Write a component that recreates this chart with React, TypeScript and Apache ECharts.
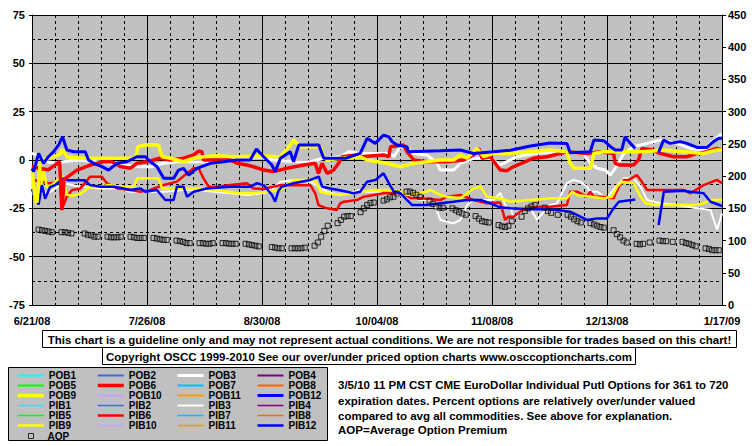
import React, { useEffect, useRef } from 'react';
import * as echarts from 'echarts';

const FONT = "'Liberation Sans', Arial, sans-serif";

// x = days since 6/21/08 (Saturday); labels every 35 days, weekly grid
const xTickLabels = ['6/21/08', '7/26/08', '8/30/08', '10/04/08', '11/08/08', '12/13/08', '1/17/09'];

// Left axis: percent over/under valued
const pob3: (number | null)[][] = [[0,3.4],[1.5,2.6],[4.6,-0.9],[7.6,-1.7],[9.6,-0.9],[13.7,0],[19.8,-0.9],[23.8,-1.7],[27.9,-2.6],[33,-3.5],[36,-3.5],[40,-1.7],[44,-0.9],[50,-0.9],[56.3,-0.9],[62.4,0],[68.5,1.7],[73.5,0],[79.6,-0.9],[84.7,-0.9],[88.8,0.9],[93.8,1.7],[96.4,4.3],[99.9,3.4],[109,3.4],[110.1,1.7],[112.1,6.9],[114.1,6],[116.2,3.4],[120.2,2.6],[123.3,-1.7],[124.3,-5.2],[128.3,-5.2],[130.4,-1.7],[134.4,0.9],[139.5,0.9],[142.5,-2.6],[147.6,1.7],[152.7,3.4],[159.8,4.3],[167.9,3.4],[169.9,-1.7],[172,-4.3],[174.5,-5.2],[176,-7.8],[177.5,-4.3],[180.1,3.4],[183.1,6.9],[187.2,8.6],[191.2,10.3],[196.3,8.6],[200.4,6],[204.4,5.2],[207.5,10.3],[209.5,12.9],[210,12.9]];
const pib3: (number | null)[][] = [[0,-16.4],[3,-17.2],[5.6,-16.4],[9.6,-12],[14.7,-13.8],[20.8,-14.7],[25.9,-14.7],[29.9,-16.4],[35,-16.4],[40.1,-16.4],[46.1,-15.5],[50.2,-15.5],[55.3,-16.4],[60.3,-17.2],[65.4,-18.1],[70.5,-17.2],[73.5,-14.7],[75.6,-11.2],[79.6,-10.3],[84.7,-11.2],[89.8,-16.4],[93.8,-18.1],[99.9,-15.5],[102,-16.4],[105,-16.4],[110.1,-18.1],[112.1,-18.1],[114.1,-19.8],[119.2,-20.7],[121.2,-20.7],[122.8,-24.2],[124.3,-31],[128.3,-32.8],[130.4,-31],[132.4,-23.3],[134.4,-20.7],[140.5,-20.7],[142.5,-17],[144.5,-25],[145.6,-25],[146.6,-29.3],[148.1,-28.5],[149.6,-25.9],[151.7,-25],[153.7,-31],[156.2,-25.9],[157.7,-23.3],[159.8,-22.4],[162.8,-12],[164.8,-10.3],[166.9,-11.2],[168.9,-13.8],[169.9,-16.4],[172,-16.4],[175,-19.8],[176.5,-16.4],[178.1,-13],[180.1,-9.5],[183.1,-9.5],[185.2,-13.8],[187.2,-20.7],[191.2,-22.4],[196.3,-23.3],[202.4,-25],[206.5,-25.9],[208.5,-36],[210,-27.6]];
const pob6: (number | null)[][] = [[0,-3],[2,-4.3],[5,-5],[8.4,-0.9],[9.1,-25.9],[9.8,-10],[13.7,-5.2],[17.7,-2.6],[21.8,-0.9],[24.3,-0.9],[26.9,-3.4],[29.9,-4.3],[32,-1.7],[35,-0.9],[39,0.9],[42.1,0],[46.1,0.9],[49.2,2.6],[50.7,4.6],[51.7,4.3],[52.2,0],[56.3,0],[60.3,0],[62.4,-1.7],[65.4,-2.6],[67.4,-3.5],[70.5,-5.2],[73.5,-6],[77.6,-4.3],[82.7,-2.6],[86.2,-1.7],[87.2,-6.9],[88.3,-1.7],[89.8,-6.9],[91.8,-5.2],[93.3,-1.7],[94.4,1.7],[98.9,2.6],[99.9,1.7],[107,2.6],[108.6,1.7],[109.1,6.9],[113.1,7.75],[114.1,4.3],[116.2,0],[120.2,-0.9],[126.3,-0.9],[131.4,0],[134.4,2.6],[136,6],[137,0.85],[139.5,1.7],[142.5,-5.2],[144.5,-5.5],[146.6,-3.4],[148.6,-2],[152.6,0.9],[156.7,1.7],[162.8,4.3],[168.9,3.4],[172.9,4.3],[177,3.4],[177.5,-1.7],[179,-2.6],[183.1,-2.6],[184.6,0],[185.6,6],[189.2,5.2],[190.7,3.6],[192.2,3],[195.3,1.7],[199.3,1.7],[202.4,3.4],[205.4,4.3],[208.4,6],[210,5.2]];
const pib6: (number | null)[][] = [[0,-10],[2,-11],[5,-12],[8.5,-11.5],[9.2,-25],[10.6,-19],[12.2,-15.5],[14.7,-14.7],[17.7,-8.6],[21.3,-8.6],[22.8,-12],[25.9,-14.7],[29.9,-15.5],[33,-16.4],[36,-15.5],[40.1,-12.9],[44.1,-11.2],[47.2,-6.9],[49.2,-4.3],[50.7,-4.3],[52.2,-9.5],[53.8,-13.8],[56.3,-13.8],[60.3,-12.9],[65.4,-12],[67.4,-14.7],[70.5,-15],[75.6,-13],[84.7,-13],[86.2,-17.2],[87.2,-23.3],[89.8,-25],[92.8,-25.9],[93.8,-22.4],[94.9,-21.6],[98.9,-20.7],[101,-19],[104,-18.1],[107,-17.2],[113,-17.2],[115.2,-19.8],[118.2,-19.8],[124.3,-20.7],[126.3,-19],[130.4,-18.1],[134.4,-20.7],[138.5,-22.4],[142.5,-22],[144,-31],[145,-29.3],[146.6,-29.3],[148.6,-26.7],[150.7,-25],[153.7,-24.2],[157.7,-24.2],[162.8,-23.3],[163.8,-16.4],[165.9,-16.4],[168.9,-19],[169.9,-16.4],[171,-19],[174,-19],[177,-19.8],[178.6,-13.8],[180.1,-10.3],[181.6,-10.3],[184.1,-7.8],[185.2,-10.3],[187.2,-15.5],[192.3,-15.5],[198.3,-15.5],[200.4,-17.2],[204.4,-13],[208.5,-10.3],[210,-12]];
const pob9: (number | null)[][] = [[0,-5],[0.8,-18],[1.5,-22],[2.5,-2],[3.5,0],[5,1],[7,2],[8.5,3],[9.3,5.5],[10.6,1.7],[14.7,0.9],[20,0.9],[25,0.9],[31.5,1],[32.3,6.9],[34.5,7.75],[38.5,7.75],[39.6,1.7],[42.1,0.9],[46.1,-0.9],[49.2,0.9],[52.2,1.7],[56.3,2.2],[62.4,1.7],[69.5,2.2],[75.6,1.5],[78.6,7.75],[79.6,10.3],[81.6,6.9],[87.8,6.9],[88.8,1.7],[89.8,0],[93.8,0.9],[99.9,1.7],[102,0],[108.1,-1.7],[112.1,-3.5],[116.2,-1.7],[120.2,-0.9],[124.3,0],[128.3,0],[130.4,2.6],[132.4,0.9],[135.4,6],[137.5,1.7],[140.5,3.4],[145.6,3.4],[151.7,4.3],[157.7,5.2],[162.8,4.3],[163.8,-1.7],[165,-4.3],[170,-4.3],[171,3.4],[174,4.3],[180,4.3],[186,4.3],[192,5.2],[198.3,4.3],[204.4,3.4],[208.5,5.2],[210,5.2]];
const pib9: (number | null)[][] = [[0,-12],[0.8,-20],[1.5,-23],[2.5,-17],[3.5,-5],[4.5,-14],[6,-13],[8,-10],[9.1,-8],[10.6,-18],[12.2,-18.5],[14.7,-17.6],[17.2,-14.4],[20.3,-13.8],[23.3,-12.9],[26.9,-13.8],[31,-13.8],[32,-9.5],[38.5,-9.5],[39.6,-14.7],[44.1,-14.7],[51.7,-14.7],[56.3,-15.5],[62.4,-17.2],[67.4,-17.2],[71.5,-16.4],[75.6,-15.5],[79.6,-10.3],[85.7,-10.3],[86.7,-12],[87.8,-16.4],[89.8,-17.2],[93.8,-18.1],[99.9,-16.4],[104,-15.5],[109,-15.5],[112.1,-16.4],[114.1,-18.1],[120.2,-16.4],[121.2,-15.5],[124.3,-18.1],[126.3,-19],[130.4,-19.8],[134.4,-14.7],[136.5,-13.8],[138.5,-19],[142.5,-19.8],[145.6,-21.6],[151.7,-20.7],[157.7,-19.8],[162.8,-19.8],[164.4,-16.4],[165.9,-18.1],[169.9,-19],[174,-19.8],[176.5,-19],[178.1,-13.8],[179.6,-11.2],[183.1,-12],[185.2,-19],[186.7,-22.4],[190.2,-23.3],[196.3,-23.3],[201.4,-23.3],[204.4,-22.4],[206.5,-20.7],[210,-20.7]];
const pob12: (number | null)[][] = [[0,-4.3],[0.5,-6],[2,3.4],[3.5,-1.7],[5,1.7],[6.6,4.3],[8.1,7.8],[9.3,12.1],[10.6,5.2],[12.7,4.3],[16.2,4.3],[17.2,0],[18.8,-1.7],[21.3,-3.4],[23.3,-5.2],[25.9,-1.7],[28.9,-0.9],[32,1.7],[34.5,1.7],[36,-0.9],[38,-3.4],[40.1,-9.5],[43.1,-9.5],[44.6,-5.2],[46.1,-4.3],[47.7,-7.8],[50.2,-4.3],[54.3,-1.7],[58.3,-0.9],[62.4,0],[66.4,0],[68.3,5.7],[70.5,1.7],[73,-2.6],[74,-6],[75.6,0.85],[78.6,4.3],[79.6,-0.9],[81.2,7.75],[87.3,7.75],[88.8,0.85],[95.4,0.85],[99.9,3.4],[102,11.2],[104.5,8.6],[107,12.9],[108.6,12],[109.6,9.5],[111.1,7.75],[114.1,6.9],[114.6,4.3],[124.3,4.8],[130.4,5.2],[134.4,3.4],[140.5,4.3],[145.6,5],[151.7,7.2],[157.7,8.8],[162.8,8.5],[163.8,3.8],[169.9,4.3],[171,10.3],[174,10],[176,7],[177.5,5.2],[179.5,5.2],[180.5,11.9],[182.1,8.6],[183.6,6],[187,null],[190.7,3.8],[192.2,10.3],[194.2,8.6],[197.3,9.5],[199.3,8.6],[202.4,6.5],[205.4,6.5],[207.4,9.5],[209,11.2],[210,11.2]];
const pib12: (number | null)[][] = [[0,-15],[1,-20],[2,-23],[3,-13],[4,-20],[5.5,-14],[7,-13],[8.5,-11],[9.6,-9.5],[11,-10.5],[16,-10.5],[17.7,-13],[20.8,-13.8],[25,-13.8],[27.9,-14.7],[30,-15.5],[33,-14.7],[34.5,-16.4],[38,-15.5],[40.6,-20.7],[43.1,-20.7],[44.1,-13.8],[46.1,-13.8],[47.2,-19],[49.2,-16.4],[53.2,-14.7],[60.3,-13.8],[66.4,-13.8],[68.5,-12],[70.5,-13],[73,-18],[74,-21.6],[75,-16],[76,-13.8],[79.6,-12],[84.7,-10.3],[87.3,-8.6],[88.3,-13.8],[90.8,-14.7],[93.3,-15.5],[97.9,-17.2],[99.9,-16.4],[102,-11.2],[104.5,-10.3],[107,-6.9],[108.6,-12],[110.1,-16.4],[112.1,-17.2],[115.7,-23.3],[120.2,-23.3],[124.3,-22.4],[128.3,-21.6],[132.4,-20.7],[136.5,-20.7],[139.5,-22.4],[142.5,-24.5],[145.6,-25],[151.7,-25.5],[157.7,-25.5],[163.8,-26.7],[168.9,-31],[172,-30.2],[175,-30.2],[177,-25],[178.6,-21.6],[183.6,-20.4],[187,null],[190.7,-33.6],[192.3,-16.4],[198.3,-15.9],[200.4,-16.4],[204.4,-17.2],[206.5,-21.6],[210,-23.8]];

// Right axis: Average Option Premium, one square per trading day
const aop: number[][] = [
  [2,117],[3,116],[4,115],[5,114],[6,113],
  [9,113],[10,113],[11,112],[12,111],
  [16,111],[17,109],[18,108],[19,106],[20,106],
  [23,106],[24,105],[25,105],[26,105],[27,106],
  [30,106],[31,105],[32,104],[33,104],[34,104],
  [37,104],[38,103],[39,102],[40,101],[41,101],
  [44,100],[45,99],[46,98],[47,96],[48,96],
  [51,96],[52,96],[53,95],[54,95],[55,96],
  [58,96],[59,96],[60,95],[61,95],[62,95],
  [65,95],[66,94],[67,93],[68,92],[69,91],
  [73,90],[74,89],[75,88],[76,88],
  [79,88],[80,88],[81,88],[82,88],[83,89],
  [86,92],[87,97],[88,106],[89,115],[90,123],
  [93,127],[94,132],[95,137],[96,138],[97,138],
  [100,144],[101,150],[102,155],[103,158],[104,159],
  [107,162],[108,164],[109,167],[110,168],[111,173],
  [114,176],[115,176],[116,174],[117,171],[118,168],
  [121,162],[122,157],[123,153],[124,151],[125,151],
  [128,150],[129,147],[130,144],[131,142],[132,140],
  [135,138],[136,134],[137,130],[138,129],[139,128],
  [142,124],[143,122],[144,121],[145,123],[146,130],
  [149,137],[150,146],[151,150],[152,153],[153,155],
  [156,151],[157,146],[158,143],[160,140],
  [163,140],[164,137],[165,133],[166,130],[167,128],
  [170,127],[171,125],[172,123],[173,121],[174,120],
  [177,116],[178,110],[179,105],[180,100],[181,97],
  [184,95],[185,94],[186,95],[188,97],
  [191,100],[192,99],[193,99],[195,98],
  [198,98],[199,96],[200,95],[201,93],[202,91],
  [205,88],[206,87],[207,85],[208,85],[209,85],
];

const seriesColors = ['#00FFFF','#4169E1','#FFFFFF','#800080','#00FF00','#FF0000','#00BFFF','#FF6600','#FFFF00','#C8A0FF','#FF9900','#0000FF'];
const seriesData: Record<string, (number | null)[][]> = {
  POB3: pob3, PIB3: pib3, POB6: pob6, PIB6: pib6, POB9: pob9, PIB9: pib9, POB12: pob12, PIB12: pib12,
};
const thick: Record<string, number> = { POB3: 3, POB6: 3.5, POB9: 3.5, POB12: 3, PIB3: 2, PIB6: 2.5, PIB9: 2.5, PIB12: 2.5 };

const legendCols = [
  ['POB1','POB5','POB9','PIB1','PIB5','PIB9'],
  ['POB2','POB6','POB10','PIB2','PIB6','PIB10'],
  ['POB3','POB7','POB11','PIB3','PIB7','PIB11'],
  ['POB4','POB8','POB12','PIB4','PIB8','PIB12'],
];

const guideline = 'This chart is a guideline only and may not represent actual conditions. We are not responsible for trades based on this chart!';
const copyright = 'Copyright OSCC 1999-2010 See our over/under priced option charts www.osccoptioncharts.com';
const infoLines = [
  '3/5/10 11 PM CST CME EuroDollar Individual Putl Options for 361 to 720',
  'expiration dates. Percent options are relatively over/under valued',
  'compared to avg all commodities. See above for explanation.',
  'AOP=Average Option Premium',
];

export default function App() {
  const ref = useRef<HTMLDivElement>(null);
  useEffect(() => {
    if (!ref.current) return;
    const chart = echarts.init(ref.current, undefined, { renderer: 'svg' });
    const lineSeries: any[] = [];
    ['POB', 'PIB'].forEach((pre) => {
      for (let i = 1; i <= 12; i++) {
        const name = pre + i;
        lineSeries.push({
          name,
          type: 'line',
          xAxisIndex: 0,
          yAxisIndex: 0,
          data: seriesData[name] || [],
          symbol: 'none',
          showSymbol: false,
          silent: true,
          lineStyle: { color: seriesColors[i - 1], width: thick[name] || (pre === 'POB' ? 2 : 1.5) },
          itemStyle: { color: seriesColors[i - 1] },
          z: pre === 'POB' ? 3 : 2,
        });
      }
    });
    const textStyle = { fontFamily: FONT, fontWeight: 'bold', fontSize: 10, color: '#000', lineHeight: 10 };
    const legends: any[] = legendCols.map((col, i) => ({
      data: col,
      orient: 'vertical',
      left: 16 + 80 * i,
      top: 370.5,
      itemWidth: 26,
      itemHeight: 10,
      itemGap: 0,
      padding: 0,
      selectedMode: false,
      itemStyle: { opacity: 0 },
      lineStyle: { width: 'inherit' },
      textStyle,
    }));
    legends.push({
      data: ['AOP'],
      orient: 'vertical',
      left: 28,
      top: 431,
      itemWidth: 5,
      itemHeight: 5,
      itemGap: 0,
      padding: 0,
      selectedMode: false,
      itemStyle: { borderWidth: 1, borderColor: '#000', color: 'rgba(0,0,0,0)' },
      textStyle: { ...textStyle, padding: [0, 0, 0, 9] },
    });
    const axisText = { fontFamily: FONT, fontWeight: 'bold', fontSize: 11, color: '#000' };
    const noteFont = `bold 11.5px ${FONT}`;
    chart.setOption({
      animation: false,
      backgroundColor: '#FFFFFF',
      grid: { left: 32, right: 33, top: 15, bottom: 141, show: true, backgroundColor: '#C0C0C0', borderWidth: 0 },
      legend: legends,
      xAxis: {
        type: 'value',
        min: 0,
        max: 210,
        interval: 35,
        axisLine: { show: true, onZero: false, lineStyle: { color: '#000', width: 1 } },
        axisTick: { show: false },
        axisLabel: { ...axisText, margin: 10, formatter: (v: number) => xTickLabels[Math.round(v / 35)] || '' },
        splitLine: { show: true, lineStyle: { color: '#000', width: 1 } },
        minorTick: { show: false, splitNumber: 5 },
        minorSplitLine: { show: true, lineStyle: { color: '#000', width: 1, type: [3, 3] } },
      },
      yAxis: [
        {
          type: 'value',
          position: 'left',
          min: -75,
          max: 75,
          interval: 25,
          axisLine: { show: true, onZero: false, lineStyle: { color: '#000', width: 1 } },
          axisTick: { show: true, length: 3, lineStyle: { color: '#000' } },
          axisLabel: { ...axisText, margin: 7 },
          splitLine: { show: true, lineStyle: { color: '#000', width: 1 } },
          minorTick: { show: false, splitNumber: 2 },
          minorSplitLine: { show: true, lineStyle: { color: '#000', width: 1, type: [3, 3] } },
        },
        {
          type: 'value',
          position: 'right',
          min: 0,
          max: 450,
          interval: 50,
          axisLine: { show: true, onZero: false, lineStyle: { color: '#000', width: 1 } },
          axisTick: { show: true, length: 4, lineStyle: { color: '#000' } },
          axisLabel: { ...axisText, margin: 6 },
          splitLine: { show: false },
        },
      ],
      series: [
        ...lineSeries,
        {
          name: 'AOP',
          type: 'scatter',
          xAxisIndex: 0,
          yAxisIndex: 1,
          data: aop,
          symbol: 'rect',
          symbolSize: 5,
          silent: true,
          itemStyle: { color: 'rgba(0,0,0,0)', borderColor: '#000', borderWidth: 1 },
          z: 5,
        },
      ],
      graphic: [
        { type: 'rect', shape: { x: 42.5, y: 330.5, width: 694, height: 17 }, style: { fill: '#FFFFFF', stroke: '#000', lineWidth: 1 } },
        { type: 'text', x: 389.5, y: 339.5, style: { text: guideline, fill: '#000', font: noteFont, textAlign: 'center', textVerticalAlign: 'middle' } },
        { type: 'rect', shape: { x: 102.5, y: 347.5, width: 533, height: 17 }, style: { fill: '#FFFFFF', stroke: '#000', lineWidth: 1 } },
        { type: 'text', x: 369, y: 356.5, style: { text: copyright, fill: '#000', font: noteFont, textAlign: 'center', textVerticalAlign: 'middle' } },
        { type: 'rect', shape: { x: 8.5, y: 367.5, width: 319, height: 73 }, style: { fill: '#C0C0C0', stroke: '#000', lineWidth: 1 } },
        ...infoLines.map((t, i) => ({
          type: 'text', x: 338, y: [385, 400.5, 415.5, 430][i],
          style: { text: t, fill: '#000', font: noteFont, textAlign: 'left', textVerticalAlign: 'middle' },
        })),
      ],
    });
    return () => chart.dispose();
  }, []);
  return <div ref={ref} style={{ position: 'absolute', left: 0, top: 0, width: 755, height: 446 }} />;
}
